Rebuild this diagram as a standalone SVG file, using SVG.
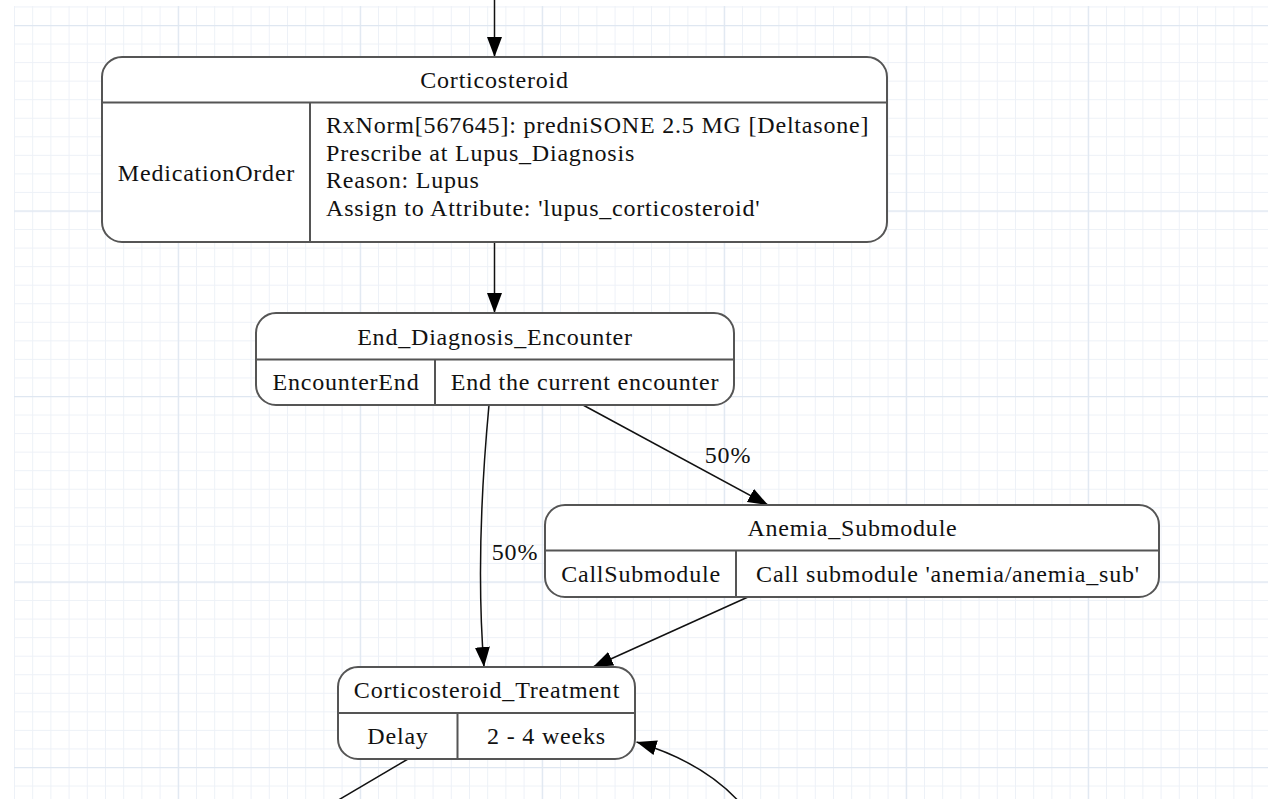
<svg xmlns="http://www.w3.org/2000/svg" width="1268" height="799" viewBox="0 0 1268 799">
<defs>
<pattern id="gMinor" x="14" y="6.45" width="18.2" height="18.55" patternUnits="userSpaceOnUse">
<path d="M0.5,0 V18.55 M0,0.5 H18.2" fill="none" stroke="#edf1f7" stroke-width="1"/>
</pattern>
<pattern id="gMajor" x="177.8" y="25" width="182" height="185.5" patternUnits="userSpaceOnUse">
<path d="M0.5,0 V185.5 M0,0.5 H182" fill="none" stroke="#dfe7f1" stroke-width="1.5"/>
</pattern>
<marker id="arr" viewBox="0 0 20 16" refX="20" refY="8" markerWidth="20" markerHeight="16" markerUnits="userSpaceOnUse" orient="auto">
<path d="M0,0.5 L20,8 L0,15.5 z" fill="#000"/>
</marker>
</defs>
<style>
.box{fill:#fff;stroke:#555;stroke-width:2}
.sep{stroke:#555;stroke-width:2;fill:none}
.t{font-family:"Liberation Serif","Times New Roman",serif;font-size:24px;letter-spacing:0.8px;fill:#111}
.c{text-anchor:middle}
.e{fill:none;stroke:#111;stroke-width:1.5;marker-end:url(#arr)}
.en{fill:none;stroke:#111;stroke-width:1.5}
</style>
<rect x="0" y="0" width="1268" height="799" fill="#fff"/>
<rect x="14" y="6" width="1254" height="793" fill="url(#gMinor)"/>
<rect x="14" y="6" width="1254" height="793" fill="url(#gMajor)"/>

<g id="connectors">
<path class="e" d="M494.5,0 L494.5,57"/>
<path class="e" d="M494.5,242 L494.5,313"/>
<path class="e" d="M489,405 C482,480 477,580 484,667"/>
<path class="e" d="M583,405 L768,505"/>
<path class="e" d="M748,597 L593,667"/>
<path class="en" d="M408,759 L330,805"/>
<path class="e" d="M742,805 C722,782 690,758 636.5,742"/>
<text class="t c" x="728" y="463">50%</text>
<text class="t c" x="515" y="560">50%</text>
</g>

<g id="Corticosteroid">
<rect class="box" x="102" y="57" width="785" height="185" rx="20"/>
<path class="sep" d="M102,102.5 H887 M310,102.5 V242"/>
<text class="t c" x="494.5" y="88">Corticosteroid</text>
<text class="t c" x="206.5" y="181">MedicationOrder</text>
<text class="t" x="326" y="133">RxNorm[567645]: predniSONE 2.5 MG [Deltasone]</text>
<text class="t" x="326" y="160.5">Prescribe at Lupus_Diagnosis</text>
<text class="t" x="326" y="188">Reason: Lupus</text>
<text class="t" x="326" y="215.5">Assign to Attribute: 'lupus_corticosteroid'</text>
</g>

<g id="End_Diagnosis_Encounter">
<rect class="box" x="256" y="313" width="478" height="92" rx="20"/>
<path class="sep" d="M256,359.5 H734 M435,359.5 V405"/>
<text class="t c" x="495" y="345">End_Diagnosis_Encounter</text>
<text class="t c" x="346" y="390">EncounterEnd</text>
<text class="t c" x="585" y="390">End the current encounter</text>
</g>

<g id="Anemia_Submodule">
<rect class="box" x="545" y="505" width="614" height="92" rx="20"/>
<path class="sep" d="M545,550.5 H1159 M736,550.5 V597"/>
<text class="t c" x="852.5" y="536">Anemia_Submodule</text>
<text class="t c" x="641" y="582">CallSubmodule</text>
<text class="t c" x="948" y="582">Call submodule 'anemia/anemia_sub'</text>
</g>

<g id="Corticosteroid_Treatment">
<rect class="box" x="338" y="667" width="297" height="92" rx="20"/>
<path class="sep" d="M338,713 H635 M457.5,713 V759"/>
<text class="t c" x="487" y="698">Corticosteroid_Treatment</text>
<text class="t c" x="398" y="744">Delay</text>
<text class="t c" x="546.5" y="744">2 - 4 weeks</text>
</g>
</svg>
